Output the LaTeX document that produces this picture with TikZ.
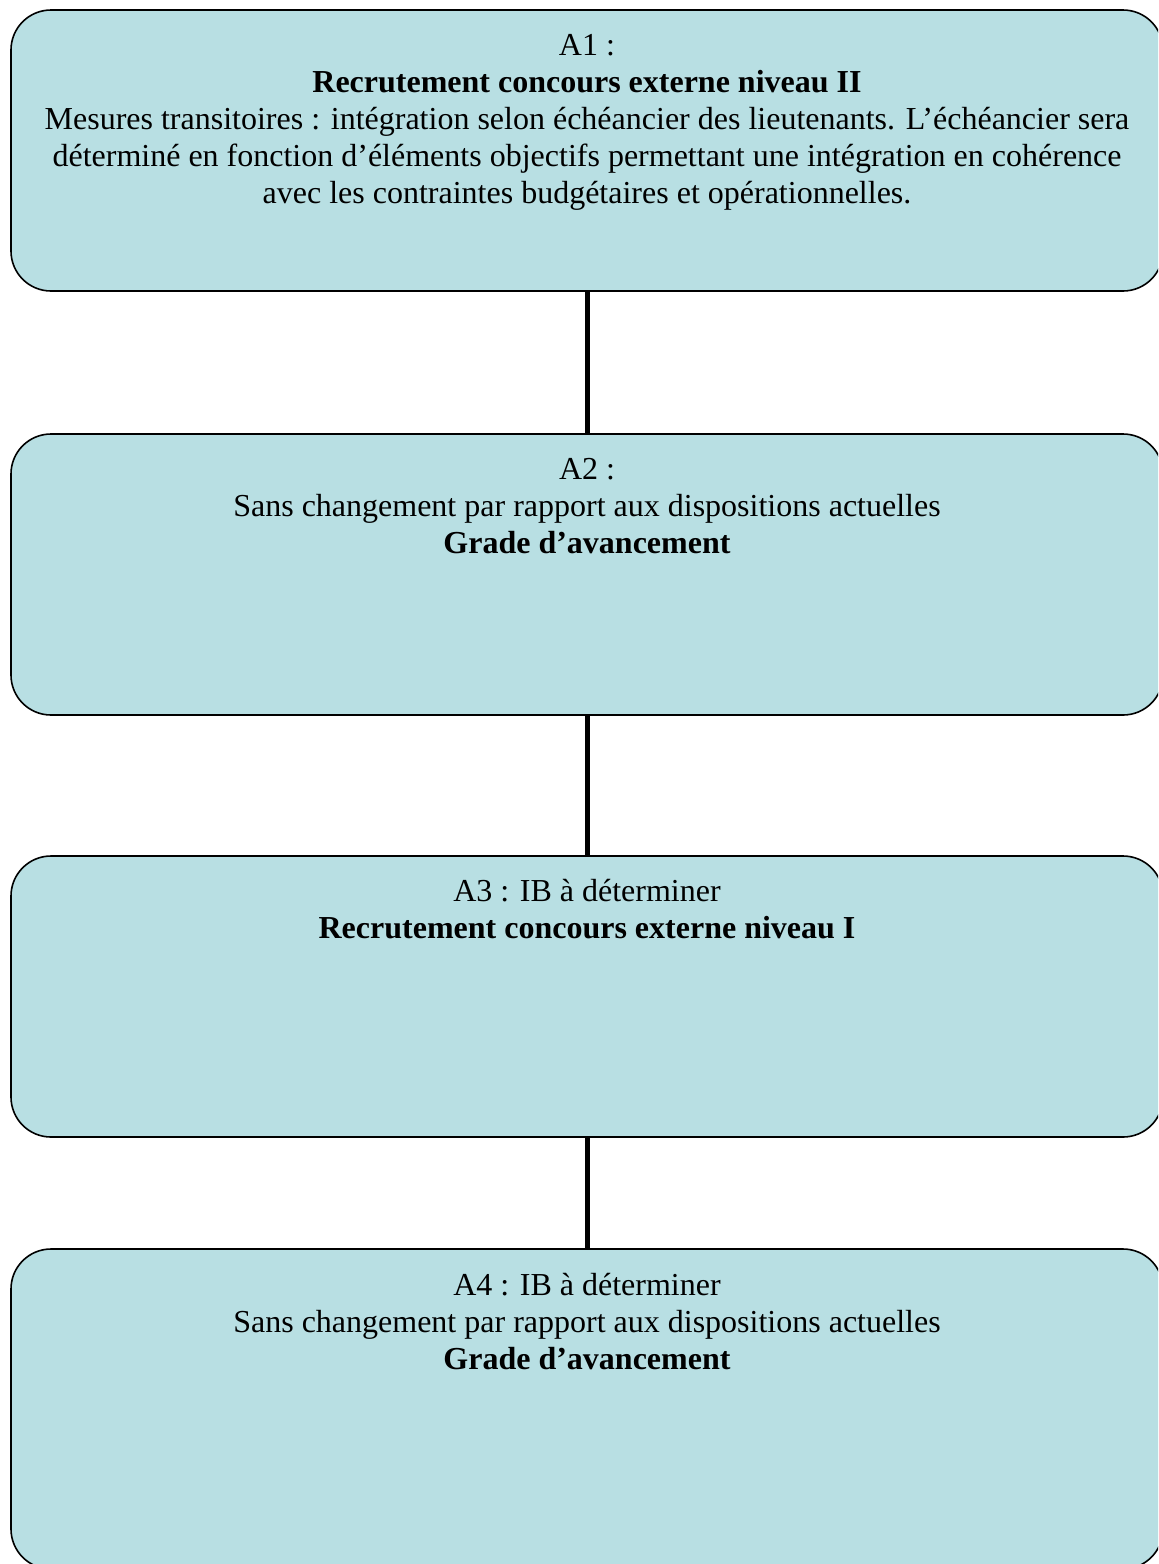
\documentclass[tikz,border=0pt]{standalone}
\usepackage{fontspec}
\setmainfont{Liberation Serif}
\usepackage{xcolor}
\definecolor{stageblue}{HTML}{B8DFE3}
\usepackage{tikz}
\usetikzlibrary{positioning}
\tikzset{
  stage/.style={rectangle, rounded corners=20pt, draw=black, fill=stageblue, line width=0.8pt,
                minimum width=576pt, inner sep=0pt, outer sep=0pt, anchor=north},
  stxt/.style ={anchor=north, align=center, inner sep=0pt, font=\fontsize{16}{18.5}\selectfont},
  link/.style ={line width=2.5pt},
}

\begin{document}
\begin{tikzpicture}[x=0.5pt, y=-0.5pt]
  \useasboundingbox (0,0) rectangle (1158,1564);
  \clip (0,0) rectangle (1158,1564);
  \node[stage, minimum height=140.5pt] (a1) at (587,10) {};
  \node[stage, minimum height=140.5pt, below=71.5pt of a1] (a2) {};
  \node[stage, minimum height=140.5pt, below=70.5pt of a2] (a3) {};
  \node[stage, minimum height=160pt, below=56pt of a3] (a4) {};
  \draw[link] (a1) -- (a2);
  \draw[link] (a2) -- (a3);
  \draw[link] (a3) -- (a4);
  \node[stxt, below=12pt of a1.north] (t1) {A1 :\\
    \textbf{Recrutement concours externe niveau II}\\
    Mesures transitoires : intégration selon échéancier des lieutenants. L’échéancier sera\\
    déterminé en fonction d’éléments objectifs permettant une intégration en cohérence\\
    avec les contraintes budgétaires et opérationnelles.};
  \node[stxt, below=12pt of a2.north] (t2) {A2 :\\
    Sans changement par rapport aux dispositions actuelles\\
    \textbf{Grade d’avancement}};
  \node[stxt, below=11.5pt of a3.north] (t3) {A3 : IB à déterminer\\
    \textbf{Recrutement concours externe niveau I}};
  \node[stxt, below=12pt of a4.north] (t4) {A4 : IB à déterminer\\
    Sans changement par rapport aux dispositions actuelles\\
    \textbf{Grade d’avancement}};
\end{tikzpicture}
\end{document}
